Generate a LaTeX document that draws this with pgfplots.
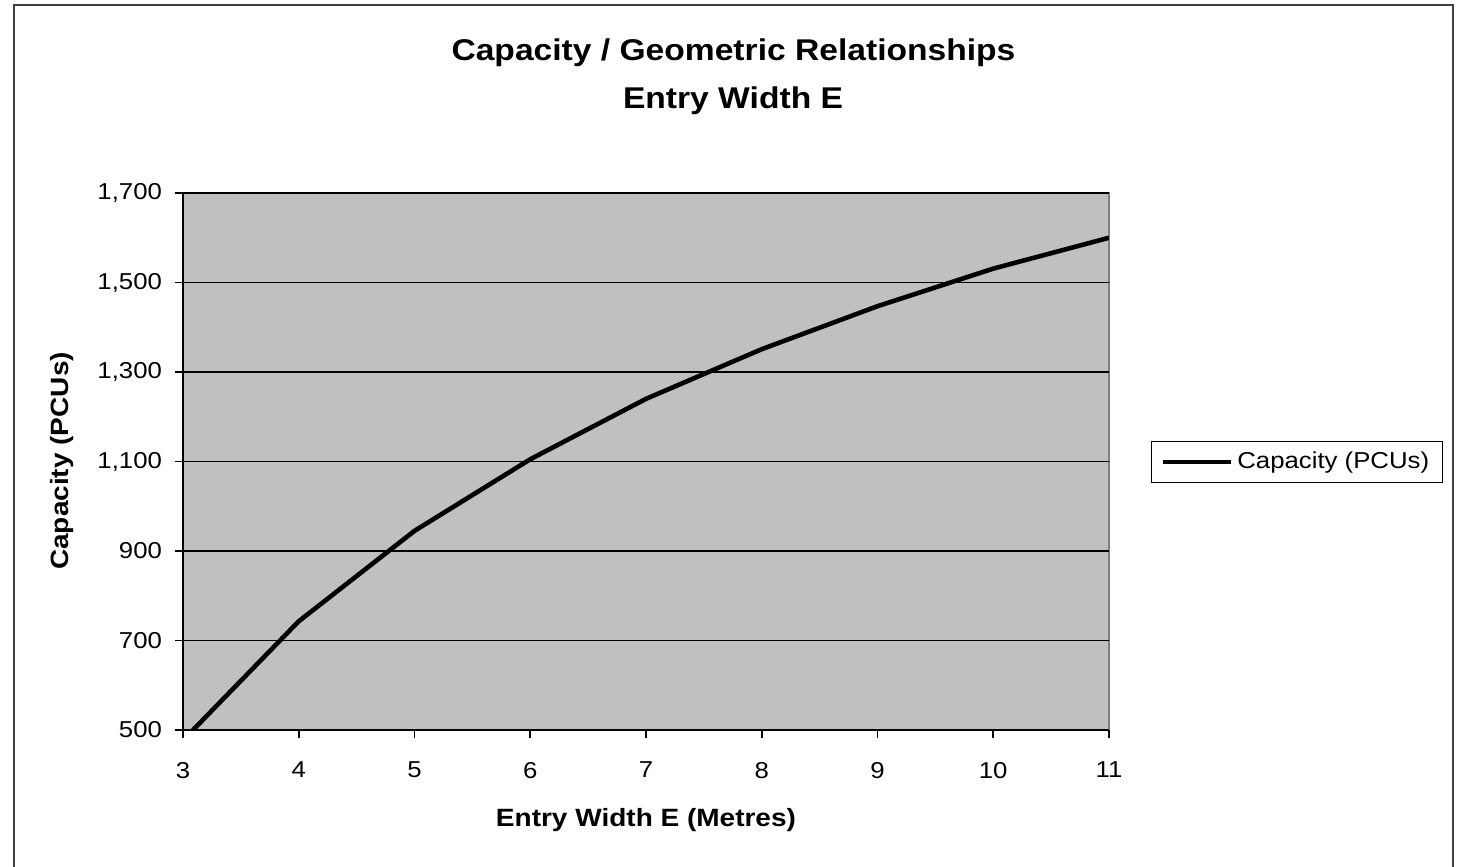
\documentclass[border=0pt]{standalone}
\usepackage{fontspec}
\setmainfont{Liberation Sans}[FakeStretch=1.12]
\usepackage{pgfplots}
\pgfplotsset{compat=1.18}
\definecolor{plotbg}{HTML}{C0C0C0}
\definecolor{frame}{HTML}{404040}
\begin{document}
\begin{tikzpicture}
\useasboundingbox (0,0) rectangle (728.5pt,-433.5pt);
\draw[line width=1.1pt, color=frame] (7pt,-433.5pt) -- (7pt,-2.6pt) -- (726.5pt,-2.6pt) -- (726.5pt,-433.5pt);
\node[anchor=base, font=\fontsize{15}{18}\selectfont\bfseries] at (366.75pt,-30.5pt) {Capacity / Geometric Relationships};
\node[anchor=base, font=\fontsize{15}{18}\selectfont\bfseries] at (366.5pt,-54pt) {Entry Width E};
\begin{axis}[
  at={(91.5pt,-365pt)}, anchor=south west,
  scale only axis, width=463pt, height=268.5pt,
  xmin=3, xmax=11, ymin=500, ymax=1700,
  xtick={3,4,5,6,7,8,9,10,11},
  ytick={500,700,900,1100,1300,1500,1700},
  axis x line*=bottom, axis y line*=left,
  axis line style={black, line width=0.8pt, -},
  axis background/.style={fill=plotbg, draw=gray, line width=0.6pt},
  tick align=outside, major tick length=4pt,
  tick style={black, line width=0.8pt},
  ymajorgrids, major grid style={black, line width=0.6pt},
  /pgf/number format/.cd, 1000 sep={,}, assume math mode=true,
  /pgfplots/.cd,
  ticklabel style={font=\fontsize{11.5}{13}\selectfont},
  xticklabel style={yshift=-8.5pt},
  yticklabel style={xshift=-3pt},
  xlabel={Entry Width E (Metres)},
  ylabel={Capacity (PCUs)},
  label style={font=\fontsize{12.5}{15}\selectfont\bfseries},
  xlabel style={at={(axis description cs:0.5,-0.1676)}, anchor=center},
  ylabel style={at={(axis description cs:-0.1307,0.501)}, anchor=center, rotate=0},
  legend style={at={(axis description cs:1.203,0.499)}, anchor=center,
    draw=black, line width=0.6pt, font=\fontsize{11.5}{13}\selectfont,
    inner xsep=4.5pt, inner ysep=3.5pt},
  legend image code/.code={\draw[#1] (0pt,0pt) -- (34pt,0pt);},
  legend cell align=left,
]
\addplot[black, line width=2.3pt] coordinates {
  (3,477) (4,743) (5,945) (6,1105) (7,1240) (8,1351) (9,1447) (10,1531) (11,1600)
};
\addlegendentry{Capacity (PCUs)}
\end{axis}
\end{tikzpicture}
\end{document}
